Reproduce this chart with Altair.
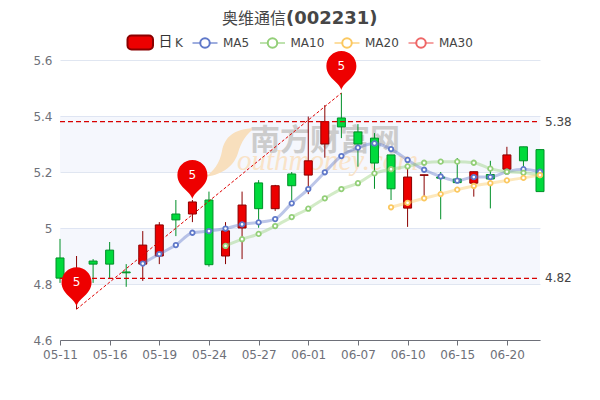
import altair as alt
import pandas as pd

dates = ["05-11","05-12","05-13","05-16","05-17","05-18","05-19","05-20","05-23","05-24",
         "05-25","05-26","05-27","05-30","05-31","06-01","06-02","06-06","06-07","06-08",
         "06-09","06-10","06-13","06-14","06-15","06-16","06-17","06-20","06-21","06-22"]
tick_dates = ["05-11","05-16","05-19","05-24","05-27","06-01","06-07","06-10","06-15","06-20"]
opens  = [4.893,4.80,4.882,4.921,4.843,4.871,4.90,5.05,5.05,5.10,
          4.90,5.00,5.161,5.069,5.193,5.189,5.30,5.393,5.343,5.321,
          5.261,5.071,5.188,5.182,5.175,5.16,5.191,5.21,5.29,5.28]
closes = [4.821,4.85,4.871,4.871,4.84,4.939,5.011,5.029,5.093,4.869,
          4.99,5.082,5.069,5.151,5.151,5.24,5.38,5.361,5.30,5.232,
          5.14,5.182,5.19,5.178,5.162,5.201,5.175,5.261,5.24,5.13]
highs  = [4.961,4.90,4.889,4.95,4.871,4.989,5.021,5.10,5.10,5.13,
          5.021,5.13,5.171,5.154,5.20,5.398,5.439,5.482,5.371,5.339,
          5.261,5.211,5.19,5.20,5.25,5.201,5.24,5.29,5.29,5.28]
lows   = [4.804,4.71,4.804,4.821,4.79,4.811,4.871,4.971,5.021,4.862,
          4.871,4.889,5.001,5.061,5.10,5.121,5.251,5.321,5.219,5.14,
          5.10,5.004,5.112,5.031,5.16,5.112,5.07,5.196,5.207,5.13]
ma5 = [None]*5 + [4.873,4.907,4.939,4.983,4.989,4.998,5.013,5.02,5.032,5.088,5.139,5.199,5.257,
                  5.287,5.302,5.282,5.243,5.208,5.184,5.169,5.182,5.182,5.201,5.21,5.201]
ma10 = [None]*10 + [4.936,4.96,4.979,5.007,5.039,5.069,5.106,5.139,5.16,5.195,5.21,5.22,5.233,
                    5.237,5.237,5.233,5.212,5.201,5.197,5.189]
ma20 = [None]*20 + [5.074,5.09,5.106,5.121,5.137,5.15,5.16,5.17,5.179,5.189]
y_ticks = [4.6,4.8,5.0,5.2,5.4,5.6]
band_lo = [5.2,4.8]
band_hi = [5.4,5.0]
ref_levels = [5.38,4.82]
ref_labels = ["5.38","4.82"]
pin_dates = ["05-12","05-23","06-06"]
pin_vals = [4.71,5.093,5.482]
pin_text = ["5","5","5"]
link_dates = ["05-12","06-06"]
link_vals = [4.71,5.482]

RED, RED_D, GRN, GRN_D = "#ec0000", "#8a0000", "#00da3c", "#008f28"
C5, C10, C20, C30 = "#5f78c9", "#93cf78", "#fbc860", "#ee6666"
FONT = "DejaVu Sans"
CJK = "Noto Sans CJK SC"
PIN = "M0,-3 C-2,-11 -15,-15 -15,-27 A15,15 0 1 1 15,-27 C15,-15 2,-11 0,-3 Z"
SWOOSH = "M50,-47 C28,-46 20,-38 17,-24 C15,-12 8,-3 0,2 C14,0 28,-6 33,-22 C36,-33 42,-42 50,-47 Z"

pos = {d: i for i, d in enumerate(dates)}
df = pd.DataFrame(dict(i=[pos[d] for d in dates], o=opens, c=closes, h=highs, l=lows))
df["dir"] = ["up" if c >= o else "down" for o, c in zip(opens, closes)]

tick_pos = [pos[d] for d in tick_dates]
label_expr = "{" + ",".join(f"'{pos[d]}':'{d}'" for d in tick_dates) + "}[datum.value]"
xs = alt.Scale(domain=[0, len(dates) - 1], nice=False, zero=False, padding=0)
ys = alt.Scale(domain=[4.6, 5.6], nice=False, zero=False)
x_axis = alt.Axis(
    values=tick_pos, labelExpr=label_expr, labelAngle=0, labelFont=FONT, labelFontSize=12, labelColor="#6e7079",
    domainColor="#6e7079", ticks=True, tickColor="#6e7079", tickSize=5, labelPadding=4, grid=False,
    labelOverlap=False, labelFlush=False)
y_axis = alt.Axis(
    values=y_ticks, format=".1~f", labelFont=FONT, labelFontSize=12, labelColor="#6e7079",
    domain=False, ticks=False, labelPadding=8, grid=True, gridColor="#e0e6f1", gridWidth=1)
X = alt.X("i:Q", scale=xs, title=None, axis=x_axis)
Y = lambda f: alt.Y(f, scale=ys, title=None, axis=y_axis)

one = pd.DataFrame({"a": [0]})
def txt(s, x, y, size=12, color="#444444", font=FONT, **kw):
    return alt.Chart(one).mark_text(text=s, font=font, fontSize=size, color=color, align="left",
                                    baseline="middle", **kw).encode(x=alt.value(x), y=alt.value(y))

bands = alt.Chart(pd.DataFrame({"b": band_lo, "b2": band_hi})).mark_rect(
    fill="#dfe6f8", opacity=0.3).encode(x=alt.value(0), x2=alt.value(480), y=Y("b:Q"), y2="b2:Q")

swoosh = alt.Chart(one).mark_point(shape=SWOOSH, size=4, filled=True, fill="#f8dfbd", opacity=1).encode(
    x=alt.value(145), y=alt.value(115))
wm1 = txt("南方财富网", 190, 81, 30, "#cccccc", CJK, fontWeight="bold")
wm2 = txt("outhmoney.com", 177, 101, 29, "#f9e3c8", "Liberation Serif", fontStyle="italic")

color_dir = alt.Color("dir:N", scale=alt.Scale(domain=["up", "down"], range=[RED, GRN]), legend=None)
stroke_dir = alt.Stroke("dir:N", scale=alt.Scale(domain=["up", "down"], range=[RED_D, GRN_D]), legend=None)

wick = alt.Chart(df).mark_rule(strokeWidth=1).encode(x=X, y=Y("h:Q"), y2="l:Q", stroke=stroke_dir)
body = alt.Chart(df).mark_bar(size=8, strokeWidth=1, opacity=1).encode(
    x=X, y=Y("o:Q"), y2="c:Q", color=color_dir, stroke=stroke_dir)

def ma(vals, color):
    d = pd.DataFrame({"i": list(range(len(dates))), "v": vals}).dropna()
    line = alt.Chart(d).mark_line(color=color, strokeWidth=3, opacity=0.42, interpolate="monotone").encode(
        x=X, y=Y("v:Q"))
    pts = alt.Chart(d).mark_point(shape="circle", size=20, filled=True, fill="white", stroke=color,
                                  strokeWidth=1.8, opacity=1).encode(x=X, y=Y("v:Q"))
    return line + pts

refs = pd.DataFrame({"v": ref_levels, "t": ref_labels})
ref_rule = alt.Chart(refs).mark_rule(color="#d80000", strokeWidth=1.2, strokeDash=[5, 3]).encode(
    x=alt.value(0), x2=alt.value(480), y=Y("v:Q"))
ref_text = alt.Chart(refs).mark_text(align="left", baseline="middle", font=FONT, fontSize=12,
                                     color="#444444").encode(x=alt.value(485), y=Y("v:Q"), text="t:N")
link = alt.Chart(pd.DataFrame({"i": [pos[d] for d in link_dates], "v": link_vals})).mark_line(
    color="#e00000", strokeWidth=1, strokeDash=[3, 2]).encode(x=X, y=Y("v:Q"))

pins = pd.DataFrame({"i": [pos[d] for d in pin_dates], "v": pin_vals, "t": pin_text})
pin = alt.Chart(pins).mark_point(shape=PIN, size=4, filled=True, fill="#ee0000", opacity=1).encode(
    x=X, y=Y("v:Q"))
pin_t = alt.Chart(pins).mark_text(color="white", font=FONT, fontSize=12, baseline="middle", dy=-27).encode(
    x=X, y=Y("v:Q"), text="t:N")

legend = [alt.Chart(one).mark_rect(fill=RED, stroke=RED_D, strokeWidth=2, cornerRadius=4).encode(
    x=alt.value(67.5), x2=alt.value(93), y=alt.value(-24.5), y2=alt.value(-10.5))]
legend += [txt("日", 98.5, -18, 14, "#333333", CJK), txt("K", 115, -17)]
for cx, c, s in [(145, C5, "MA5"), (212.5, C10, "MA10"), (287, C20, "MA20"), (361, C30, "MA30")]:
    legend.append(alt.Chart(one).mark_rule(color=c, strokeWidth=2, opacity=0.6).encode(
        x=alt.value(cx - 12.5), x2=alt.value(cx + 12.5), y=alt.value(-17)))
    legend.append(alt.Chart(one).mark_point(shape="circle", size=90, filled=True, fill="white", stroke=c,
                                            strokeWidth=2, opacity=1).encode(x=alt.value(cx), y=alt.value(-17)))
    legend.append(txt(s, cx + 18, -17))

title = [txt("奥维通信", 162, -41, 16, "#464646", CJK),
         txt("(002231)", 226, -41, 18, "#464646", FONT, fontWeight="bold")]

layers = [bands, swoosh, wm1, wm2, wick, body, ma(ma5, C5), ma(ma10, C10), ma(ma20, C20),
          ref_rule, ref_text, link, pin, pin_t] + legend + title
chart = alt.layer(*layers).properties(
    width=480, height=280,
    autosize=alt.AutoSizeParams(type="none"),
    padding={"left": 52, "top": 52, "right": 52, "bottom": 52},
).resolve_scale(color="independent", stroke="independent").configure_view(stroke=None)
chart.save("out.html", embed_options={"renderer": "svg", "actions": False})
